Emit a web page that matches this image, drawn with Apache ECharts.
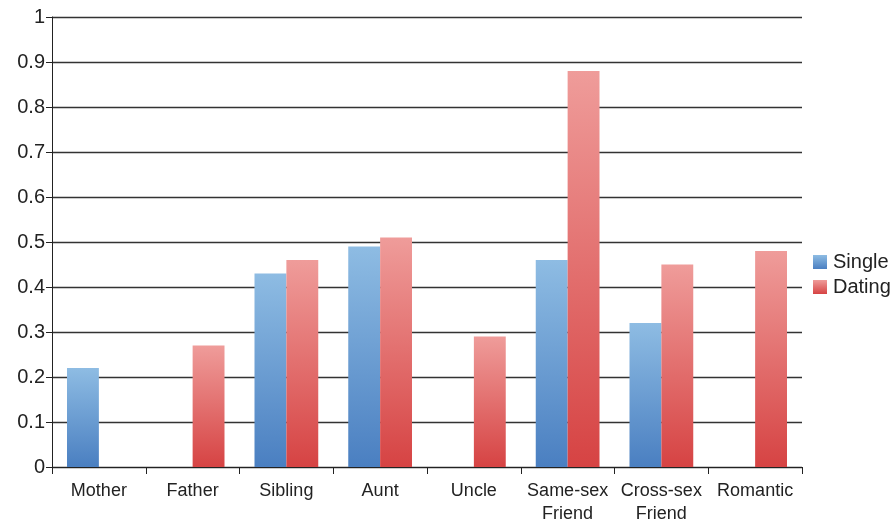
<!doctype html>
<html class="full">
<head>
    <meta charset="utf-8">
    <title>Single vs Dating</title>
    <style>
        html, body { margin: 0; padding: 0; background: #fff; }
        #chart { width: 896px; height: 521px; }
    </style>
</head>
<body>
<div id="chart"></div>
<script src="https://cdn.jsdelivr.net/npm/echarts@6/dist/echarts.min.js"></script>
<script>
    // data
    var categories = ['Mother', 'Father', 'Sibling', 'Aunt', 'Uncle', 'Same-sex\nFriend', 'Cross-sex\nFriend', 'Romantic'];
    var singleVals = [0.22, 0, 0.43, 0.49, 0, 0.46, 0.32, 0];
    var datingVals = [0, 0.27, 0.46, 0.51, 0.29, 0.88, 0.45, 0.48];
    var seriesNames = ['Single', 'Dating'];

    function grad(top, bottom) {
        return new echarts.graphic.LinearGradient(0, 0, 0, 1, [
            {offset: 0, color: top},
            {offset: 1, color: bottom}
        ]);
    }

    var blue = grad('#8ebce3', '#4a7fc1');
    var red = grad('#ef9c9a', '#d64343');

    var myChart = echarts.init(document.getElementById('chart'));
    var option = {
        animation: false,
        textStyle: {fontFamily: 'Liberation Sans, Arial, sans-serif'},
        grid: {left: 52, right: 94, top: 17, bottom: 54, outerBoundsMode: 'none'},
        legend: {
            orient: 'vertical',
            left: 808,
            top: 247,
            itemWidth: 14,
            itemHeight: 14,
            itemGap: 5,
            icon: 'rect',
            textStyle: {fontSize: 20, color: '#222', padding: [0, 0, 0, 1]},
            data: seriesNames
        },
        xAxis: {
            type: 'category',
            data: categories,
            axisLine: {lineStyle: {color: '#222', width: 1}},
            axisTick: {show: true, length: 7, lineStyle: {color: '#222'}},
            axisLabel: {fontSize: 18, color: '#222', margin: 13, lineHeight: 23, interval: 0}
        },
        yAxis: {
            type: 'value',
            min: 0,
            max: 1,
            interval: 0.1,
            axisLine: {show: true, lineStyle: {color: '#222', width: 1}},
            axisTick: {show: true, length: 6, lineStyle: {color: '#222'}},
            axisLabel: {fontSize: 20, color: '#222', margin: 7},
            splitLine: {lineStyle: {color: '#333', width: 1.3}}
        },
        series: [{
            name: seriesNames[0],
            type: 'bar',
            data: singleVals,
            barGap: '0%',
            barCategoryGap: '32%',
            itemStyle: {color: blue}
        }, {
            name: seriesNames[1],
            type: 'bar',
            data: datingVals,
            itemStyle: {color: red}
        }]
    };
    myChart.setOption(option);
</script>
</body>
</html>
